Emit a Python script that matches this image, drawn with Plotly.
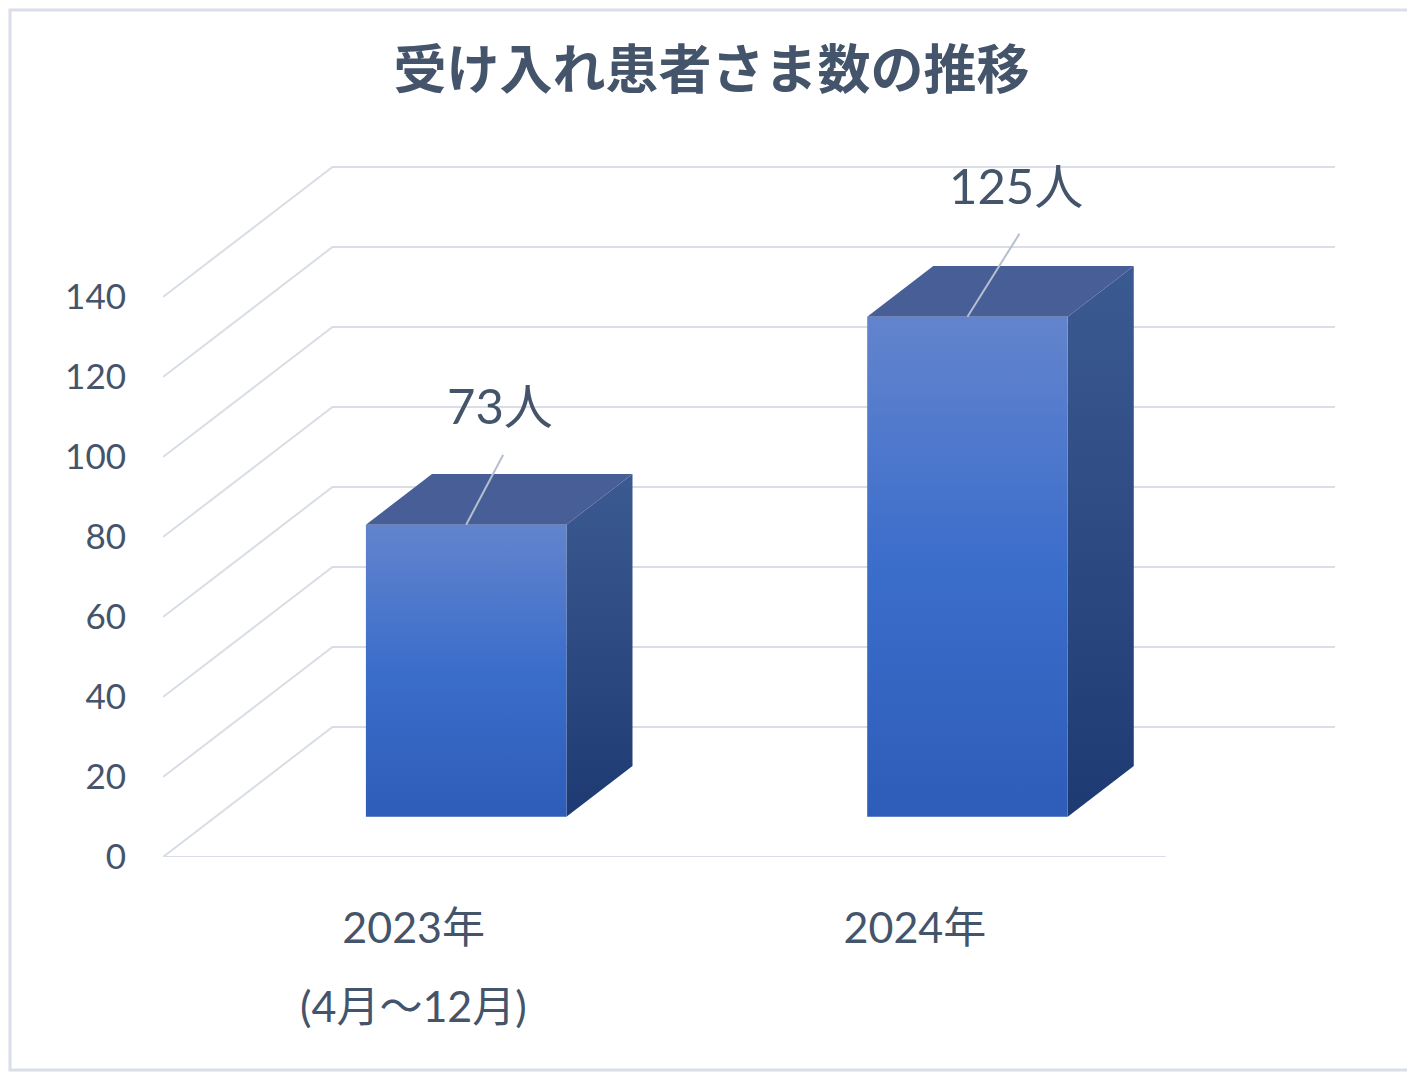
import plotly.graph_objects as go

title = "受け入れ患者さま数の推移"
categories = ["2023年", "2024年"]
sub_labels = ["(4月～12月)", ""]
patients = [73, 125]
y_ticks = [0, 20, 40, 60, 80, 100, 120, 140]

# fake 3D: oblique shift for the depth direction
DX = 0.338   # in category units
DY = 32.5    # in value units
BAR_W = 0.4
D_FRONT, D_BACK = 0.31, 0.70

# label / leader line placement relative to the top of each bar (pixels)
label_dx = [34, 49]
label_dy = [120, 132]
leader_dx = [37, 52]
leader_dy = [70, 83]

# page body has an 8px margin, so the figure is a bit smaller than the window
W, H = 1407, 1064
ML, MR, MT, MB = 155, 80, 89, 215
pw = W - ML - MR
ph = H - MT - MB
XMAX = 2 + DX
YMAX = 190
px_x = pw / XMAX
px_y = ph / YMAX

GRID = "#D9DDE6"
TEXT = "#44546A"
NUM_FONT = "Lato, Noto Sans CJK JP, sans-serif"

fig = go.Figure()

# left wall + back wall gridlines
for v in y_ticks:
    fig.add_trace(go.Scatter(x=[0, DX, 2 + DX], y=[v, v + DY, v + DY], mode="lines",
                             line=dict(color=GRID, width=2), hoverinfo="skip", showlegend=False))
# front edge of the floor
fig.add_trace(go.Scatter(x=[0, len(categories)], y=[0, 0], mode="lines",
                         line=dict(color=GRID, width=2), hoverinfo="skip", showlegend=False))

ddx = (D_BACK - D_FRONT) * DX
ddy = (D_BACK - D_FRONT) * DY

for i, v in enumerate(patients):
    xl = i + 0.5 - BAR_W / 2 + D_FRONT * DX
    xr = xl + BAR_W
    xc = i + 0.5 + D_FRONT * DX
    y0 = D_FRONT * DY
    y1 = v + y0
    # side face
    fig.add_trace(go.Scatter(x=[xr, xr + ddx, xr + ddx, xr, xr], y=[y0, y0 + ddy, y1 + ddy, y1, y0],
                             fill="toself", mode="lines", line=dict(width=0),
                             fillgradient=dict(type="vertical", colorscale=[[0, "#1E3A72"], [1, "#3C5A92"]]),
                             hoverinfo="skip", showlegend=False))
    # top face
    fig.add_trace(go.Scatter(x=[xl, xr, xr + ddx, xl + ddx, xl], y=[y1, y1, y1 + ddy, y1 + ddy, y1],
                             fill="toself", mode="lines", line=dict(width=0), fillcolor="#475F96",
                             hoverinfo="skip", showlegend=False))
    # front face
    fig.add_trace(go.Scatter(x=[xl, xr, xr, xl, xl], y=[y0, y0, y1, y1, y0],
                             fill="toself", mode="lines", line=dict(width=0),
                             fillgradient=dict(type="vertical", colorscale=[[0, "#2D5DB8"], [0.5, "#3B6DCB"], [1, "#6384CD"]]),
                             hoverinfo="skip", showlegend=False))
    # leader line + data label
    fig.add_trace(go.Scatter(x=[xc, xc + leader_dx[i] / px_x], y=[y1, y1 + leader_dy[i] / px_y], mode="lines",
                             line=dict(color="#B4BFCF", width=2), hoverinfo="skip", showlegend=False))
    fig.add_annotation(x=xc, y=y1, text=f"{v}人", showarrow=False,
                       xshift=label_dx[i], yshift=label_dy[i],
                       font=dict(family=NUM_FONT, size=49, color=TEXT))
    if sub_labels[i]:
        fig.add_annotation(x=i + 0.5, xref="x", y=-148 / ph, yref="paper", text=sub_labels[i],
                           showarrow=False, yanchor="middle",
                           font=dict(family=NUM_FONT, size=43, color=TEXT))

fig.add_shape(type="rect", xref="paper", yref="paper",
              x0=-(ML - 2) / pw, x1=1 + (MR - 2) / pw, y0=-(MB - 2) / ph, y1=1 + (MT - 2) / ph,
              line=dict(color="#D9DEE8", width=3))

fig.update_layout(
    width=W, height=H,
    margin=dict(l=ML, r=MR, t=MT, b=MB),
    paper_bgcolor="white", plot_bgcolor="white",
    showlegend=False,
    title=dict(text=f"<b>{title}</b>", x=0.5, xanchor="center", y=1 - 62 / H, yanchor="middle",
               font=dict(family="Noto Sans CJK JP", size=53, color=TEXT)),
    xaxis=dict(range=[0, XMAX], showgrid=False, zeroline=False, showline=False,
               tickvals=[i + 0.5 for i in range(len(categories))], ticktext=categories,
               ticklabelstandoff=42, tickfont=dict(family=NUM_FONT, size=43, color=TEXT)),
    yaxis=dict(range=[0, YMAX], showgrid=False, zeroline=False, showline=False,
               tickvals=y_ticks, ticklabelstandoff=36,
               tickfont=dict(family=NUM_FONT, size=35, color=TEXT)),
)

fig.write_html("out.html")
